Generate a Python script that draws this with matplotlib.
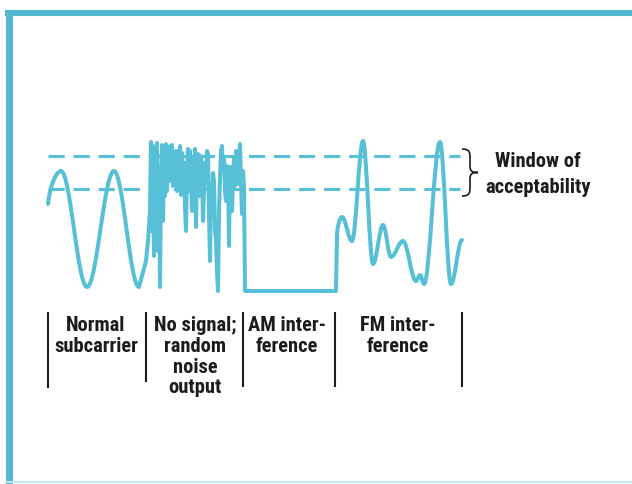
import matplotlib
matplotlib.use('Agg')
import matplotlib.pyplot as plt
from matplotlib.path import Path
from matplotlib.patches import PathPatch

plt.rcParams['font.family'] = ['Roboto Condensed', 'DejaVu Sans']

# levels are read upward from the AM floor, time runs left to right
window_upper = 135
window_lower = 102

# normal subcarrier: start point, then peaks and troughs
normal_t = [0, 13, 39, 66, 91]
normal_lvl = [87, 120, 4, 120, 4]

# no signal: random noise output
noise_t = [98, 100, 102, 103, 104, 105, 106, 107, 108, 109, 110, 111, 112, 113,
           114, 115, 116, 117, 118, 119, 120, 121, 122, 123, 124, 125, 126, 127,
           128, 129, 130, 131, 132, 133, 134, 135, 136, 137, 138, 139, 140, 141,
           142, 143, 144, 145, 146, 147, 148, 149, 150, 151, 152, 153, 154, 155,
           156, 157, 158, 159, 160, 161, 162, 163, 164, 165, 166, 167, 168, 169,
           170, 171, 172, 173, 174, 175, 176, 177, 178, 179, 180, 181, 182, 183,
           184, 185, 186, 187, 188, 189, 190, 191, 192, 193, 194, 195, 196, 197]
noise_lvl = [30, 50, 80, 149, 60, 145, 35, 140, 75, 148, 40, 120, 4, 110,
             146, 70, 140, 95, 147, 100, 138, 110, 145, 120, 146, 105, 135, 112,
             140, 100, 130, 118, 145, 96, 138, 110, 128, 85, 60, 120, 142, 100,
             140, 115, 80, 134, 120, 142, 64, 125, 137, 95, 112, 135, 120, 70,
             100, 128, 110, 140, 137, 80, 30, 100, 92, 118, 110, 60, 52, 20,
             0, 80, 112, 140, 145, 120, 132, 100, 90, 125, 117, 45, 124, 110,
             80, 118, 132, 105, 140, 115, 107, 130, 147, 110, 77, 120, 104, 0]

# AM interference: trace lies on the floor
am_t = [288]
am_lvl = [0]

# FM interference: peaks and troughs after leaving the floor
fm_t = [289, 294, 304, 315, 325, 335, 343, 355, 368, 372, 376, 392, 403, 414]
fm_lvl = [57, 74, 50, 150, 27, 66, 34, 50, 10, 16, 7, 149, 7, 51]

section_edges = [0, 98, 195, 287, 414]
section_bottom = [-97, -91, -96, -96, -96]
section_labels = ['Normal\nsubcarrier', 'No signal;\nrandom\nnoise\noutput',
                  'AM inter-\nference', 'FM inter-\nference']
label_t = [48, 147, 239, 350]
window_label = 'Window of\nacceptability'

trace_col = '#58c0d6'
frame_col = '#50b9cf'
ink = '#1c1c1c'

K = 0.3634  # bezier handle for a half-cosine swing


def add_swings(verts, codes, ts, ls):
    for i in range(1, len(ts)):
        t0, l0, t1, l1 = ts[i - 1], ls[i - 1], ts[i], ls[i]
        d = (t1 - t0) * K
        if i == 1:
            c1 = (t0 + 0.15 * (t1 - t0), l0 + 0.55 * (l1 - l0))
        else:
            c1 = (t0 + d, l0)
        verts += [c1, (t1 - d, l1), (t1, l1)]
        codes += [Path.CURVE4] * 3


def main():
    fig = plt.figure(figsize=(6.32, 4.85), dpi=100)
    ax = fig.add_axes([0, 0, 1, 1])
    ax.set_xlim(-48, 584)
    ax.set_ylim(-193, 292)
    ax.axis('off')

    # window of acceptability
    for lvl in (window_upper, window_lower):
        ax.plot([section_edges[0], section_edges[-1] - 2], [lvl, lvl], color=trace_col,
                lw=2.2, linestyle=(0, (5.3, 2.9)), solid_capstyle='butt')

    # trace
    verts = [(normal_t[0], normal_lvl[0])]
    codes = [Path.MOVETO]
    add_swings(verts, codes, normal_t, normal_lvl)
    for t, l in zip(noise_t + am_t + fm_t[:1], noise_lvl + am_lvl + fm_lvl[:1]):
        verts.append((t, l))
        codes.append(Path.LINETO)
    add_swings(verts, codes, fm_t, fm_lvl)
    ax.add_patch(PathPatch(Path(verts, codes), fill=False, ec=trace_col, lw=2.9,
                           capstyle='round', joinstyle='round'))

    # brace
    x0 = section_edges[-1]
    top, bot = window_upper + 7, window_lower - 7
    mid = (top + bot) / 2
    h = top - bot
    w = 16
    bv = [(x0, top), (x0 + w / 2, top), (x0 + w / 2, top - 0.08 * h), (x0 + w / 2, top - 0.2 * h),
          (x0 + w / 2, mid + 0.15 * h),
          (x0 + w / 2, mid + 0.03 * h), (x0 + 0.6 * w, mid), (x0 + w, mid),
          (x0 + 0.6 * w, mid), (x0 + w / 2, mid - 0.03 * h), (x0 + w / 2, mid - 0.15 * h),
          (x0 + w / 2, bot + 0.2 * h),
          (x0 + w / 2, bot + 0.08 * h), (x0 + w / 2, bot), (x0, bot)]
    bc = [Path.MOVETO] + [Path.CURVE4] * 3 + [Path.LINETO] + [Path.CURVE4] * 6 + \
         [Path.LINETO] + [Path.CURVE4] * 3
    ax.add_patch(PathPatch(Path(bv, bc), fill=False, ec=ink, lw=1.2))
    ax.text(490, window_upper + 5, window_label, ha='center', va='top', color=ink,
            fontsize=14.8, fontweight='bold', linespacing=1.47)

    # section dividers and labels
    for t, b in zip(section_edges, section_bottom):
        ax.plot([t, t], [-21, b], color=ink, lw=1.5, solid_capstyle='butt')
    for t, lab in zip(label_t, section_labels):
        ax.text(t, -24, lab, ha='center', va='top', color=ink, fontsize=14.8,
                fontweight='bold', linespacing=1.12)

    # frame
    ax.plot([5 / 632, 1], [1 - 14 / 485] * 2, transform=ax.transAxes, color=frame_col,
            lw=4.4, solid_capstyle='butt')
    ax.plot([8.5 / 632] * 2, [0, 1 - 11 / 485], transform=ax.transAxes, color=frame_col,
            lw=5.0, solid_capstyle='butt')
    ax.plot([5 / 632, 1], [2 / 485] * 2, transform=ax.transAxes, color='#c4e8f0',
            lw=1.4, solid_capstyle='butt')

    fig.savefig('out.png', dpi=100)


if __name__ == '__main__':
    main()
